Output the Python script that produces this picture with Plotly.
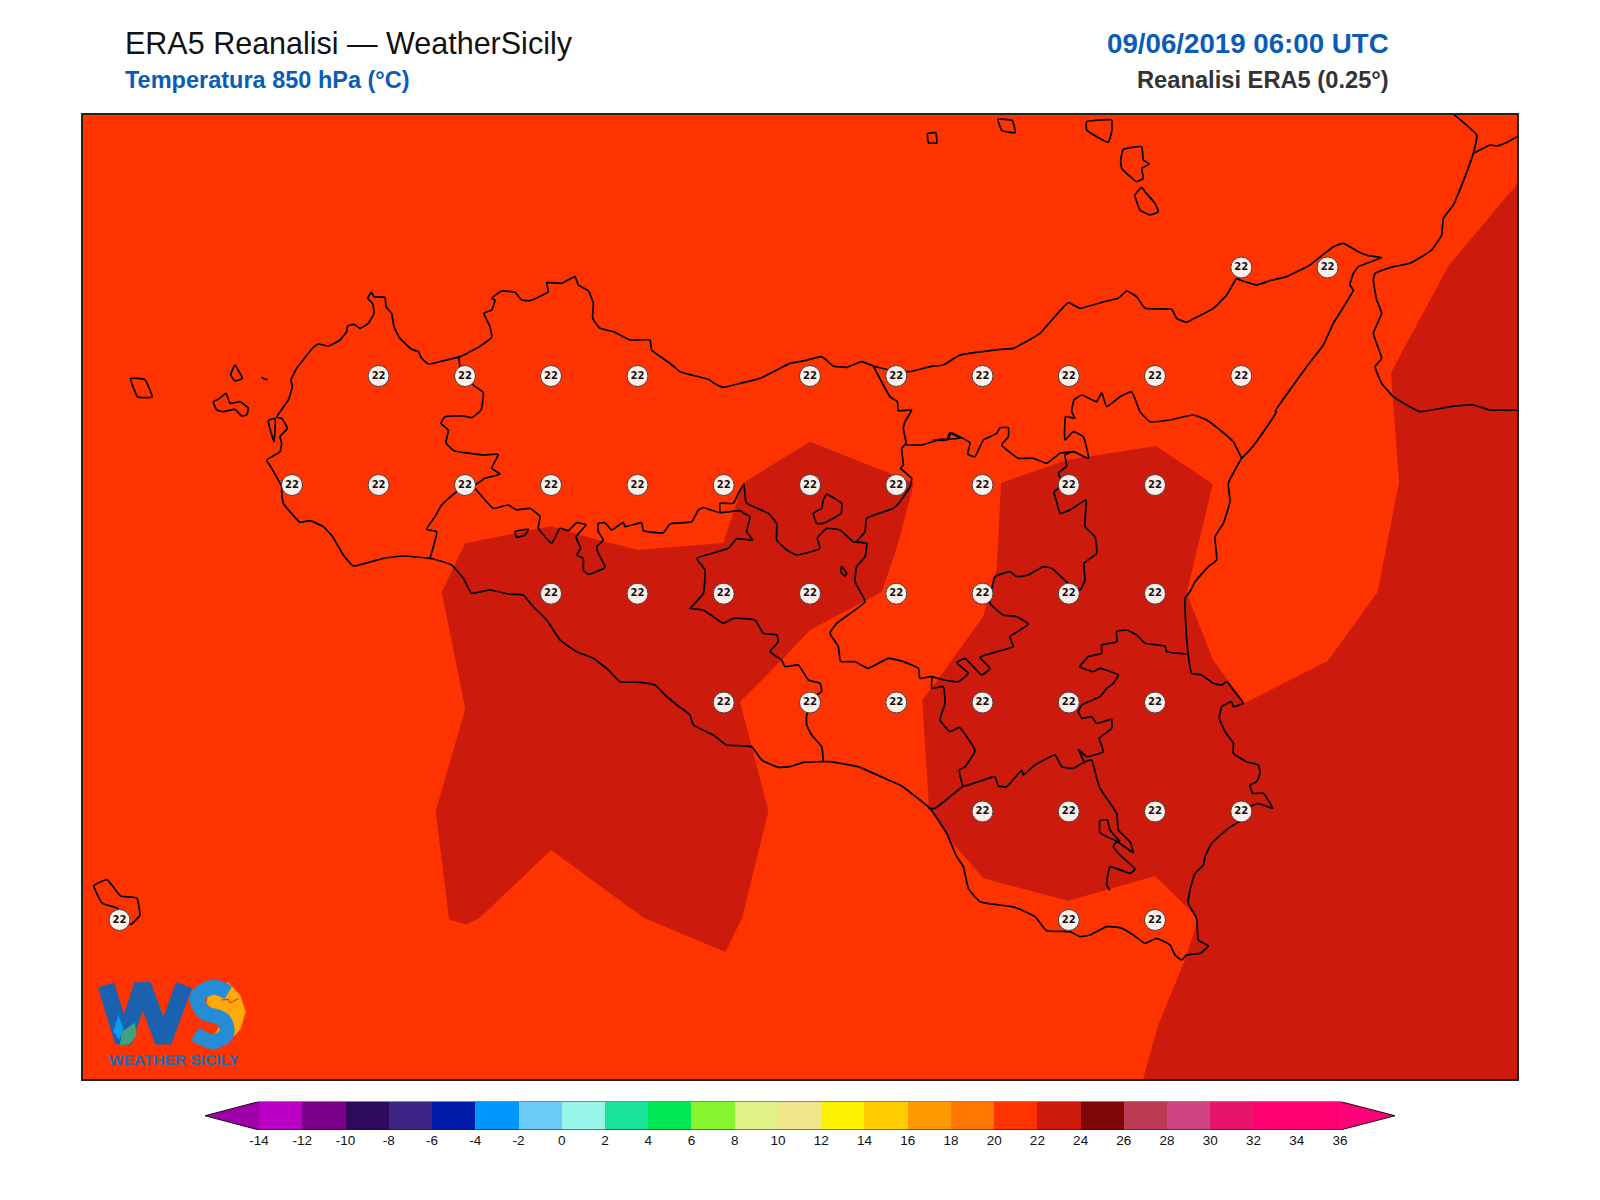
import plotly.graph_objects as go

W_PX, H_PX = 1600, 1200
FRAME = (83, 115, 1517, 1079)
FIELD_BG = "#FF3300"
FIELD_DARK = "#CC1B0C"

# Grid labels (map units), row -> columns
grid_cols = [119.5, 292, 378.6, 465, 551, 637.5, 723.7, 810, 896.3, 982.5, 1068.8, 1155, 1241.3, 1327.6]
grid_rows = [267.5, 376, 485, 593.7, 702.5, 811.5, 920]
grid_members = [
    [12, 13],
    [2, 3, 4, 5, 7, 8, 9, 10, 11, 12],
    [1, 2, 3, 4, 5, 6, 7, 8, 9, 10, 11],
    [4, 5, 6, 7, 8, 9, 10, 11],
    [6, 7, 8, 9, 10, 11],
    [9, 10, 11, 12],
    [0, 10, 11],
]
grid_value = 22

# Colour bar
levels = list(range(-14, 36, 2))
level_colors = ["#BB00C5", "#7D008B", "#2E0A5E", "#3D2485", "#001CA8", "#0096FF", "#6ACBF7", "#98F5E9",
                "#1AE49A", "#00E756", "#87F62F", "#E0F188", "#F0E68C", "#FFF200", "#FFCC00", "#FF9900",
                "#FF7700", "#FF3300", "#CC1B0C", "#7D0606", "#BB3B55", "#CF4480", "#E7146C", "#FF0070", "#FF0070"]
tick_levels = list(range(-14, 38, 2))
under_color, over_color = "#A000AA", "#FF0078"

# Warm areas 22-24 C (map units)
area_west = [(465, 543.5), (551, 526), (580, 535), (637.5, 550), (723.5, 543), (743, 483), (810, 441.7), (914, 483),
             (897, 547), (881.7, 592), (810, 630), (781.7, 660), (740, 701.7), (768.4, 811), (742, 918), (725.5, 952),
             (644, 918), (551, 850), (479.6, 918), (466, 924.5), (449, 919.4), (435.7, 811), (465.3, 709), (441.7, 592)]
area_east = [(1001, 483), (1066.7, 460), (1156, 446), (1212.7, 484), (1186.7, 593), (1213, 660), (1245, 703),
             (1327.6, 661), (1377.6, 592), (1399, 482), (1391, 372.5), (1449, 265), (1517.4, 183.7), (1517.4, 1079.5),
             (1143, 1079.5), (1158, 1025.5), (1185, 960), (1198.3, 918.3), (1155, 876), (1068.3, 900.7), (983.3, 878.3),
             (950, 840), (929, 808), (922.3, 700), (940, 676.7), (983, 616.7), (996.7, 570)]

# Lines: each chain is a list of (crop x, crop y, crop scale, points) pieces that join up
chains = []
# Sicily coast, clockwise
chains.append([
    (200, 260, 3, [(200, 600), (215, 590), (240, 575), (245, 550), (240, 530), (262, 505), (245, 475), (230, 472), (265, 420), (277, 380), (273, 360), (290, 325), (305, 305), (340, 262), (355, 252), (385, 258), (420, 240), (440, 215), (443, 198), (462, 193), (480, 205), (505, 190), (522, 160), (518, 130), (503, 115), (515, 97), (522, 110), (555, 112), (558, 140), (575, 160), (582, 200), (600, 235), (635, 268), (655, 275), (665, 295), (685, 312), (720, 305), (780, 290), (830, 265), (875, 232), (870, 200), (852, 160), (875, 150), (885, 120), (875, 115), (905, 93), (945, 97), (965, 120), (990, 122), (1045, 95), (1040, 68), (1085, 70), (1125, 50), (1135, 75), (1165, 92), (1180, 130), (1178, 175), (1200, 205), (1240, 215), (1290, 240)]),
    (560, 340, 3, [(270, 0), (275, 30), (330, 70), (360, 95), (445, 118), (460, 128), (490, 142), (540, 130), (600, 115), (690, 70), (735, 62), (785, 50), (820, 78), (860, 82), (905, 65), (940, 78), (990, 90), (1050, 95), (1110, 80), (1150, 75), (1200, 45)]),
    (1000, 110, 3, [(0, 718), (40, 715), (75, 697), (120, 670), (205, 578), (240, 595), (320, 573), (355, 565), (380, 543), (410, 560), (435, 595), (515, 598), (530, 625), (560, 637), (590, 622), (640, 595), (680, 555), (710, 505), (720, 510), (770, 525), (810, 512), (860, 500), (930, 465), (1000, 410), (1030, 400), (1075, 425), (1105, 437), (1145, 443), (1075, 470), (1060, 490), (1050, 525), (1060, 540), (1000, 640), (970, 705), (920, 770), (825, 905)]),
    (900, 380, 3, [(1130, 95), (1080, 170), (1045, 215), (1025, 235), (985, 310), (990, 365), (970, 430), (945, 470), (950, 540), (925, 560), (885, 605), (870, 635), (855, 655), (862, 800), (875, 880), (905, 885), (940, 910), (965, 915), (980, 905)]),
    (900, 660, 3, [(1000, 90), (1030, 130), (1000, 140), (995, 125), (965, 140), (958, 175), (975, 215), (1000, 250), (1000, 280), (1040, 305), (1075, 315), (1080, 340), (1070, 365), (1050, 375), (1058, 400), (1090, 400), (1118, 445), (1075, 430), (1050, 440), (1025, 480), (985, 505), (935, 550), (915, 590), (910, 615), (885, 640), (870, 690), (865, 730), (890, 775), (895, 840), (925, 858), (900, 880), (860, 885), (845, 900), (825, 885), (810, 855), (770, 835), (735, 850), (700, 825), (660, 803), (620, 800), (590, 815), (570, 825), (540, 830), (510, 815), (440, 812), (405, 770), (345, 742), (240, 725), (205, 685), (190, 620), (170, 590), (140, 520), (90, 445)]),
    (540, 620, 3, [(1085, 498), (1045, 480), (960, 442), (870, 425), (790, 427), (750, 440), (715, 442), (665, 420), (635, 380), (560, 375), (520, 345), (460, 315), (450, 285), (420, 262), (375, 225), (345, 195), (300, 187), (240, 185), (205, 150), (160, 115), (110, 95), (60, 60), (20, 0)]),
    (260, 480, 3, [(815, 375), (790, 345), (750, 343), (690, 330), (635, 340), (610, 295), (575, 255), (520, 237), (430, 228), (370, 235), (280, 258), (250, 225), (218, 170), (190, 140), (150, 122), (120, 127), (90, 95), (70, 70), (65, 35)]),
    (200, 260, 3, [(245, 680), (215, 625), (200, 600)]),
])
# Calabria
chains.append([(1000, 110, 3, [(1360, 12), (1430, 75), (1420, 130), (1395, 200), (1360, 285), (1330, 325), (1325, 375), (1295, 420), (1230, 460), (1180, 470), (1125, 490), (1120, 510), (1130, 570), (1145, 610), (1120, 670), (1145, 745), (1125, 770), (1145, 820), (1180, 860), (1220, 885), (1260, 905), (1350, 890), (1420, 885), (1470, 900), (1551, 900)])])
chains.append([(1000, 110, 3, [(1420, 130), (1450, 115), (1470, 105), (1490, 108), (1515, 100), (1551, 80)])])
# Borders
chains.append([
    (200, 260, 3, [(777, 292), (780, 320), (820, 375), (850, 398), (843, 450), (815, 473), (790, 468), (735, 470), (723, 490), (745, 510), (738, 548), (762, 572), (850, 585), (895, 583), (875, 625), (900, 642), (855, 655), (825, 675), (770, 695), (725, 735), (705, 770), (680, 808), (710, 815), (690, 895)]),
])
chains.append([
    (200, 260, 3, [(825, 685), (880, 745), (925, 735), (950, 750), (990, 745), (1020, 770), (1015, 805), (1055, 850), (1080, 805)]),
    (560, 340, 3, [(25, 572), (50, 548), (78, 555), (48, 590), (62, 625), (50, 645), (70, 655), (70, 690), (85, 703), (135, 682), (115, 640), (110, 620), (130, 600), (115, 575), (115, 550), (135, 548), (155, 570), (190, 547), (195, 560), (245, 548), (250, 572), (310, 578), (330, 552), (395, 545), (415, 510), (430, 503), (480, 518), (540, 512), (552, 520), (570, 530), (560, 575), (578, 600), (530, 596), (505, 625), (410, 655), (435, 690), (430, 760), (395, 800), (390, 805), (430, 810), (490, 850), (520, 835), (585, 840), (610, 880), (650, 885), (655, 905), (630, 935), (665, 960)]),
    (540, 620, 3, [(735, 140), (775, 135), (805, 180), (840, 190), (845, 215), (830, 225), (800, 285), (800, 315), (815, 345), (845, 380), (850, 425)]),
])
chains.append([
    (560, 340, 3, [(480, 518), (480, 490), (520, 490), (535, 460), (552, 432), (555, 470), (560, 490), (625, 520), (650, 550), (650, 600), (680, 630), (710, 645), (780, 625), (772, 595), (800, 565), (840, 570), (880, 605), (920, 610), (915, 650), (890, 680), (885, 725), (915, 785), (830, 850), (810, 880), (835, 920), (840, 960)]),
    (540, 620, 3, [(905, 125), (945, 125), (985, 145), (1045, 115), (1090, 125), (1135, 145), (1140, 175), (1175, 170)]),
    (900, 660, 3, [(95, 85), (130, 80), (135, 130), (120, 180), (150, 215), (178, 202), (225, 272), (195, 320), (178, 330), (190, 378), (285, 350), (295, 378), (320, 380), (365, 330), (370, 345), (405, 315), (465, 285), (485, 320), (520, 325), (555, 305), (575, 300), (590, 355), (600, 385), (650, 460), (655, 510), (690, 545), (700, 578), (650, 545), (640, 560), (660, 585), (705, 628), (690, 640), (630, 620), (620, 675), (630, 690)]),
])
chains.append([(900, 660, 3, [(190, 378), (150, 410), (105, 445), (85, 445)])])
chains.append([(900, 660, 3, [(660, 548), (600, 518), (600, 482), (622, 480), (630, 510), (660, 545)])])
chains.append([(900, 380, 3, [(95, 890), (130, 900), (175, 905), (205, 880), (170, 848), (195, 835), (245, 885), (270, 865), (240, 832), (290, 815), (340, 800), (330, 770), (385, 733), (350, 710), (310, 705), (270, 670), (285, 590), (330, 575), (350, 590), (385, 585), (430, 560), (455, 565), (505, 610), (540, 630), (555, 600), (552, 550), (590, 520), (585, 470), (555, 440), (558, 360), (510, 390), (480, 400), (470, 365), (462, 335), (490, 315), (475, 280), (500, 258), (495, 225), (520, 215), (565, 235), (550, 170), (520, 155), (495, 180), (497, 110), (525, 115), (515, 95), (522, 60), (545, 45), (590, 65), (605, 38), (620, 80), (660, 50), (695, 35), (720, 95), (750, 125), (810, 120), (880, 105), (920, 120), (960, 150), (1000, 185), (1025, 235)])])
chains.append([(560, 340, 3, [(940, 78), (990, 170), (1012, 185), (1015, 212), (1055, 210), (1035, 245), (1030, 265), (1038, 310), (1025, 325), (1030, 375), (1022, 385), (1055, 415), (1050, 440), (1020, 485), (1000, 505), (920, 535), (915, 575), (890, 605)])])
chains.append([
    (560, 340, 3, [(1038, 315), (1085, 315), (1140, 298), (1165, 298), (1172, 280), (1200, 295)]),
    (900, 380, 3, [(100, 180), (140, 180), (150, 158), (210, 188), (203, 222), (225, 230), (250, 180), (290, 160), (300, 143), (325, 143), (325, 170), (305, 195), (355, 235), (400, 235), (440, 250), (480, 220), (520, 215)]),
])
chains.append([
    (900, 380, 3, [(860, 822), (800, 815), (795, 798), (735, 790), (710, 765), (680, 750), (650, 755), (650, 785), (605, 795), (605, 820), (565, 830), (540, 860), (580, 875), (600, 865), (655, 885)]),
    (900, 660, 3, [(640, 70), (620, 85), (600, 110), (545, 135), (535, 155), (545, 175), (575, 170), (590, 190), (635, 178), (635, 205), (598, 235), (610, 275), (560, 290), (535, 268), (555, 310)]),
])
# Lakes and islands
chains.append([(560, 340, 3, [(800, 463), (845, 490), (843, 520), (790, 550), (770, 550), (760, 520), (785, 505), (790, 480), (800, 463)])])
chains.append([(560, 340, 3, [(845, 680), (860, 700), (855, 708), (842, 695), (845, 680)])])
chains.append([(200, 260, 3, [(945, 815), (985, 808), (975, 825), (950, 832), (945, 815)])])
chains.append([(200, 260, 3, [(40, 425), (55, 418), (78, 400), (90, 430), (120, 425), (145, 445), (140, 465), (125, 468), (105, 448), (70, 455), (50, 450), (40, 425)])])
chains.append([(200, 260, 3, [(105, 315), (120, 340), (127, 355), (105, 363), (92, 345), (105, 315)])])
chains.append([(200, 260, 3, [(185, 352), (195, 358), (203, 358)])])
chains.append([(200, 260, 3, [(205, 482), (225, 475), (222, 545), (205, 482)])])
chains.append([(0, 0, 0.98, [(128, 371), (142, 372), (149, 389), (135, 389), (128, 371)])])
chains.append([(0, 0, 0.98, [(92, 868), (105, 862), (118, 878), (134, 880), (137, 897), (128, 906), (115, 890), (100, 885), (92, 868)])])
chains.append([(1000, 110, 3, [(260, 35), (335, 30), (335, 65), (325, 97), (260, 60), (260, 35)])])
chains.append([(1000, 110, 3, [(370, 118), (425, 110), (430, 150), (448, 162), (425, 175), (430, 205), (410, 215), (365, 175), (362, 150), (370, 118)])])
chains.append([(1000, 110, 3, [(405, 255), (425, 232), (435, 245), (465, 280), (475, 305), (450, 315), (420, 300), (405, 255)])])
chains.append([(0, 0, 0.98, [(978, 117), (992, 118), (995, 130), (982, 128), (978, 117)])])
chains.append([(0, 0, 0.98, [(909, 131), (917, 130), (918, 140), (910, 140), (909, 131)])])

coast_x, coast_y = [], []
for chain in chains:
    for x0, y0, s, pts in chain:
        coast_x += [x0 + p[0] / s for p in pts]
        coast_y += [y0 + p[1] / s for p in pts]
    coast_x.append(None)
    coast_y.append(None)

# Logo shapes (crop of the map corner)
logo = (80, 940, 3)
logo_w = [(78, 135), (130, 305), (188, 135), (250, 305), (312, 135)]
logo_s = [(445, 158), (400, 142), (352, 170), (370, 215), (430, 240), (440, 280), (400, 305), (345, 282)]
logo_sun = [(445, 128), (480, 165), (497, 215), (480, 270), (440, 310), (385, 322), (400, 290), (430, 240), (380, 190), (385, 160), (410, 145)]
logo_leaf = [(120, 315), (125, 275), (165, 248), (170, 285), (150, 312)]
logo_drop = [(115, 225), (130, 265), (118, 300), (100, 275)]
logo_bird = [(425, 180), (445, 178), (450, 188), (475, 176)]


def lx(pts):
    return [logo[0] + p[0] / logo[2] for p in pts]


def ly(pts):
    return [logo[1] + p[1] / logo[2] for p in pts]


def closed(pts):
    return pts + [pts[0]]


fig = go.Figure()
fig.add_shape(type="rect", xref="paper", yref="paper", x0=(FRAME[0] - 0.5) / W_PX, x1=(FRAME[2] + 0.5) / W_PX,
              y0=1 - (FRAME[3] + 0.5) / H_PX, y1=1 - (FRAME[1] - 0.5) / H_PX,
              fillcolor=FIELD_BG, line=dict(width=0), layer="below")
for area in (area_west, area_east):
    ring = closed(area)
    fig.add_trace(go.Scatter(x=[p[0] for p in ring], y=[p[1] for p in ring], mode="lines", fill="toself",
                             fillcolor=FIELD_DARK, line=dict(width=0, color=FIELD_DARK), hoverinfo="skip"))
fig.add_trace(go.Scatter(x=coast_x, y=coast_y, mode="lines",
                         line=dict(color="#000000", width=1.7, shape="spline", smoothing=0.35), hoverinfo="skip"))

# Logo
fig.add_trace(go.Scatter(x=lx(closed(logo_sun)), y=ly(closed(logo_sun)), mode="lines", fill="toself",
                         fillcolor="#FFA90A", line=dict(width=1, color="#F08A00"), hoverinfo="skip"))
fig.add_trace(go.Scatter(x=lx(logo_w), y=ly(logo_w), mode="lines", line=dict(color="#1A62B0", width=17), hoverinfo="skip"))
fig.add_trace(go.Scatter(x=lx(logo_s), y=ly(logo_s), mode="lines", line=dict(color="#258CD6", width=15, shape="spline"), hoverinfo="skip"))
fig.add_trace(go.Scatter(x=lx(closed(logo_drop)), y=ly(closed(logo_drop)), mode="lines", fill="toself",
                         fillcolor="#0A9CF0", line=dict(width=0), hoverinfo="skip"))
fig.add_trace(go.Scatter(x=lx(closed(logo_leaf)), y=ly(closed(logo_leaf)), mode="lines", fill="toself",
                         fillcolor="#3FA383", line=dict(width=0), hoverinfo="skip"))
fig.add_trace(go.Scatter(x=lx(logo_bird), y=ly(logo_bird), mode="lines", line=dict(color="#D8401C", width=1.2), hoverinfo="skip"))

# Grid values
gx, gy, gt = [], [], []
for row, members in zip(grid_rows, grid_members):
    for c in members:
        gx.append(grid_cols[c])
        gy.append(row)
        gt.append(str(grid_value))
fig.add_trace(go.Scatter(x=gx, y=gy, mode="markers+text", text=gt, textposition="middle center",
                         textfont=dict(family="DejaVu Sans", size=10, color="#111111", weight="bold"),
                         marker=dict(size=21, color="rgba(255,247,244,0.96)", line=dict(color="#444444", width=1)),
                         hoverinfo="skip"))

# Colour bar
fig.add_trace(go.Bar(x=[2] * len(levels), base=levels, y=[0] * len(levels), orientation="h", width=1,
                     marker=dict(color=level_colors, line=dict(width=0)), xaxis="x2", yaxis="y2", hoverinfo="skip"))
fig.add_trace(go.Scatter(x=[-14, -16.5, -14], y=[-0.5, 0, 0.5], mode="lines", fill="toself", fillcolor=under_color,
                         line=dict(width=0), xaxis="x2", yaxis="y2", hoverinfo="skip"))
fig.add_trace(go.Scatter(x=[36, 38.54, 36], y=[-0.5, 0, 0.5], mode="lines", fill="toself", fillcolor=over_color,
                         line=dict(width=0), xaxis="x2", yaxis="y2", hoverinfo="skip"))
fig.add_trace(go.Scatter(x=[-14, -16.5, -14, 36, 38.54, 36, -14], y=[-0.5, 0, 0.5, 0.5, 0, -0.5, -0.5], mode="lines",
                         line=dict(color="#111111", width=1), xaxis="x2", yaxis="y2", hoverinfo="skip"))


def note(text, x, y, size, color, anchor="left", bold=False):
    fig.add_annotation(text=text, x=x / W_PX, y=1 - y / H_PX, xref="paper", yref="paper", xanchor=anchor, yanchor="middle",
                       showarrow=False, font=dict(family="Liberation Sans", size=size, color=color, weight="bold" if bold else "normal"))


note("ERA5 Reanalisi — WeatherSicily", 123, 43, 30.5, "#111111")
note("Temperatura 850 hPa (°C)", 123, 80, 23.5, "#0B5CB8", bold=True)
note("09/06/2019 06:00 UTC", 1391, 44, 27.7, "#0B5CB8", anchor="right", bold=True)
note("Reanalisi ERA5 (0.25°)", 1391, 80, 23.7, "#333333", anchor="right", bold=True)
note("WEATHER SICILY", 174, 1059, 15.5, "#1A6DB5", anchor="center", bold=True)

fig.update_layout(
    width=W_PX, height=H_PX, margin=dict(l=0, r=0, t=0, b=0), paper_bgcolor="white", plot_bgcolor="rgba(0,0,0,0)",
    showlegend=False, bargap=0,
    xaxis=dict(domain=[FRAME[0] / W_PX, FRAME[2] / W_PX], range=[FRAME[0], FRAME[2]], showgrid=False, zeroline=False,
               showticklabels=False, ticks="", showline=True, mirror=True, linecolor="#222222", linewidth=1.5),
    yaxis=dict(domain=[1 - FRAME[3] / H_PX, 1 - FRAME[1] / H_PX], range=[FRAME[3], FRAME[1]], showgrid=False, zeroline=False,
               showticklabels=False, ticks="", showline=True, mirror=True, linecolor="#222222", linewidth=1.5),
    xaxis2=dict(domain=[205 / W_PX, 1395 / W_PX], range=[-16.5, 38.54], anchor="y2", tickmode="array", tickvals=tick_levels,
                ticktext=[str(v) for v in tick_levels], ticks="", ticklen=0, showgrid=False, zeroline=False,
                tickfont=dict(family="Liberation Sans", size=13.5, color="#111111")),
    yaxis2=dict(domain=[1 - 1130 / H_PX, 1 - 1101.5 / H_PX], range=[-0.5, 0.5], anchor="x2", showgrid=False, zeroline=False,
                showticklabels=False, ticks=""),
)
fig.write_html("out.html", post_script="document.body.style.margin='0';", config={"displayModeBar": False})
